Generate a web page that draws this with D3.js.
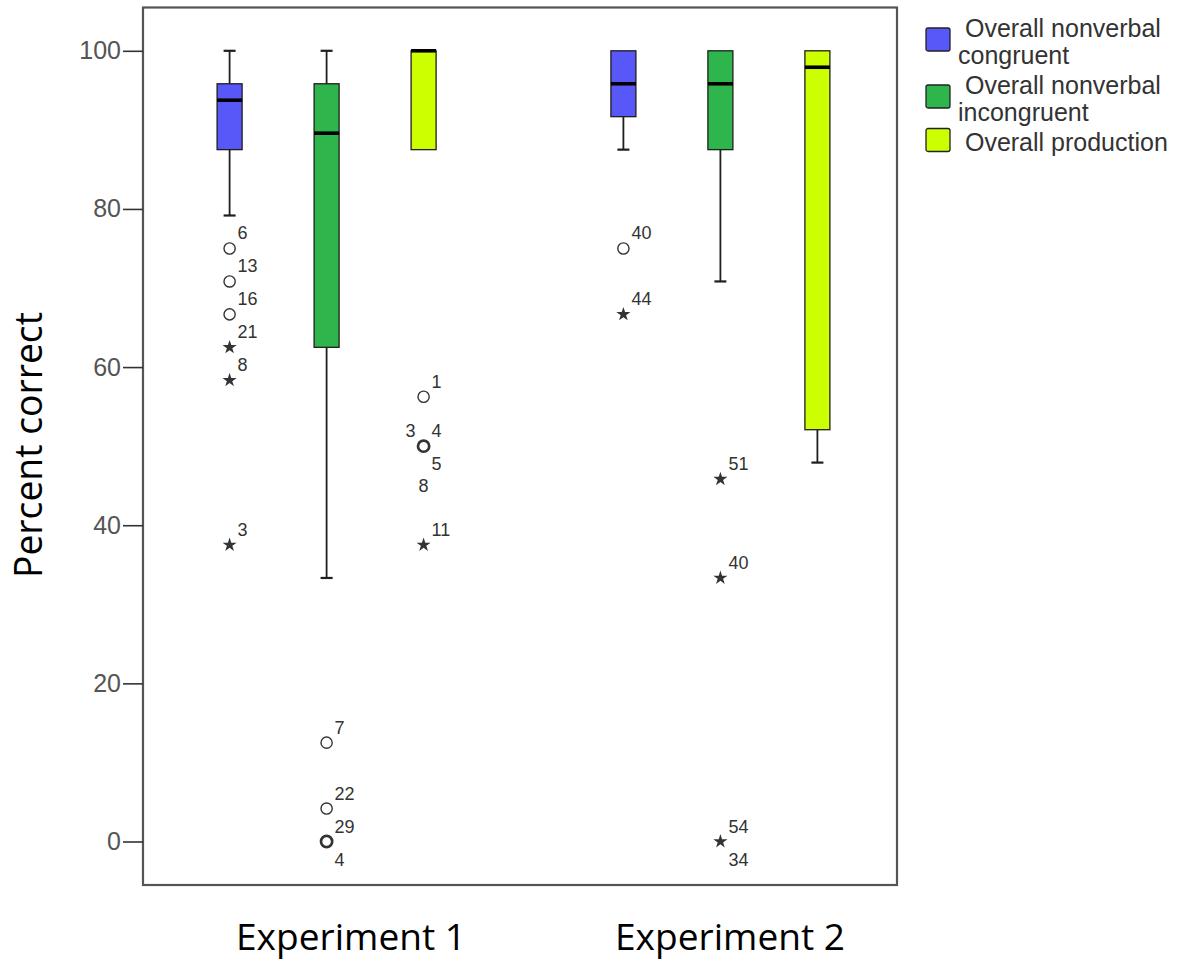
<!DOCTYPE html>
<html>
<head>
<meta charset="utf-8">
<script src="https://cdn.jsdelivr.net/npm/d3@7"></script>
<style>
  html, body { margin: 0; padding: 0; background: #fff; }
  svg { display: block; }
</style>
</head>
<body>
<script>
// Groups and measures
const experiments = ["Experiment 1", "Experiment 2"];
const measures = ["Overall nonverbal congruent", "Overall nonverbal incongruent", "Overall production"];
const legendLines = [[" Overall nonverbal", "congruent"], [" Overall nonverbal", "incongruent"], [" Overall production"]];
const yTicks = [0, 20, 40, 60, 80, 100];

// Box statistics, one row per experiment, one entry per measure (percent correct)
const whiskerLow  = [[79.17, 33.33, 87.5], [87.5, 70.83, 47.92]];
const q1          = [[87.5, 62.5, 87.5], [91.67, 87.5, 52.08]];
const medians     = [[93.75, 89.58, 100], [95.83, 95.83, 97.92]];
const q3          = [[95.83, 95.83, 100], [100, 100, 100]];
const whiskerHigh = [[100, 100, 100], [100, 100, 100]];

// Outlying cases: experiment index, measure index, value, kind ("o" outlier, "*" extreme),
// case numbers with the side of the point their label sits on
const outliers = [
  { e: 0, m: 0, value: 75,    kind: "o", cases: [["6", "ne"]] },
  { e: 0, m: 0, value: 70.83, kind: "o", cases: [["13", "ne"]] },
  { e: 0, m: 0, value: 66.67, kind: "o", cases: [["16", "ne"]] },
  { e: 0, m: 0, value: 62.5,  kind: "*", cases: [["21", "ne"]] },
  { e: 0, m: 0, value: 58.33, kind: "*", cases: [["8", "ne"]] },
  { e: 0, m: 0, value: 37.5,  kind: "*", cases: [["3", "ne"]] },
  { e: 0, m: 1, value: 12.5,  kind: "o", cases: [["7", "ne"]] },
  { e: 0, m: 1, value: 4.17,  kind: "o", cases: [["22", "ne"]] },
  { e: 0, m: 1, value: 0,     kind: "o", cases: [["29", "ne"], ["4", "se"]] },
  { e: 0, m: 2, value: 56.25, kind: "o", cases: [["1", "ne"]] },
  { e: 0, m: 2, value: 50,    kind: "o", cases: [["3", "nw"], ["4", "ne"], ["5", "se"], ["8", "s"]] },
  { e: 0, m: 2, value: 37.5,  kind: "*", cases: [["11", "ne"]] },
  { e: 1, m: 0, value: 75,    kind: "o", cases: [["40", "ne"]] },
  { e: 1, m: 0, value: 66.67, kind: "*", cases: [["44", "ne"]] },
  { e: 1, m: 1, value: 45.83, kind: "*", cases: [["51", "ne"]] },
  { e: 1, m: 1, value: 33.33, kind: "*", cases: [["40", "ne"]] },
  { e: 1, m: 1, value: 0,     kind: "*", cases: [["54", "ne"], ["34", "se"]] }
];

const colors = ["#5858f8", "#2eb54b", "#ccff00"];

// Layout
const W = 1189, H = 961;
const frame = { left: 143, top: 7.5, right: 897, bottom: 885 };
const boxW = 25, capW = 12;

const svg = d3.select("body").append("svg").attr("width", W).attr("height", H);

const y = d3.scaleLinear().domain([0, 100]).range([841.5, 50.8]);
const xGroup = d3.scalePoint().domain(experiments).range([326.6, 720.4]);
const xInner = d3.scalePoint().domain(measures).range([-97, 97]);
const xLabel = d3.scalePoint().domain(experiments).range([351, 730]);
const color = d3.scaleOrdinal().domain(measures).range(colors);

// Plot frame
svg.append("rect")
  .attr("x", frame.left).attr("y", frame.top)
  .attr("width", frame.right - frame.left).attr("height", frame.bottom - frame.top)
  .attr("fill", "#fff").attr("stroke", "#555").attr("stroke-width", 2.2);

// Y axis
const yAxis = svg.append("g")
  .attr("transform", `translate(${frame.left},0)`)
  .call(d3.axisLeft(y).tickValues(yTicks).tickSize(20).tickPadding(2));
yAxis.select(".domain").remove();
yAxis.selectAll(".tick line").attr("stroke", "#333").attr("stroke-width", 1.6);
yAxis.selectAll(".tick text")
  .attr("fill", "#555")
  .style("font-family", "'Liberation Sans', Arial, sans-serif")
  .style("font-size", "25px");

// Axis titles
svg.append("text")
  .attr("transform", "translate(42,445) rotate(-90)")
  .attr("text-anchor", "middle")
  .attr("textLength", 266).attr("lengthAdjust", "spacingAndGlyphs")
  .style("font-family", "'Open Sans', 'Noto Sans', sans-serif")
  .style("font-size", "38px")
  .attr("fill", "#000")
  .text("Percent correct");

svg.selectAll(".xlab").data(experiments).join("text")
  .attr("class", "xlab")
  .attr("x", d => xLabel(d)).attr("y", 950)
  .attr("text-anchor", "middle")
  .attr("textLength", 230).attr("lengthAdjust", "spacingAndGlyphs")
  .style("font-family", "'Open Sans', 'Noto Sans', sans-serif")
  .style("font-size", "37px")
  .attr("fill", "#000")
  .text(d => d);

// Boxes
const boxes = [];
experiments.forEach((ex, e) => measures.forEach((ms, m) => {
  boxes.push({
    ex, ms, cx: xGroup(ex) + xInner(ms),
    lo: whiskerLow[e][m], q1: q1[e][m], med: medians[e][m], q3: q3[e][m], hi: whiskerHigh[e][m]
  });
}));

const gBox = svg.append("g");
boxes.forEach(b => {
  const g = gBox.append("g");
  const stroke = "#1e1e1e";
  if (b.lo < b.q1) {
    g.append("line").attr("x1", b.cx).attr("x2", b.cx).attr("y1", y(b.q1)).attr("y2", y(b.lo))
      .attr("stroke", stroke).attr("stroke-width", 1.8);
    g.append("line").attr("x1", b.cx - capW / 2).attr("x2", b.cx + capW / 2).attr("y1", y(b.lo)).attr("y2", y(b.lo))
      .attr("stroke", stroke).attr("stroke-width", 2.2);
  }
  if (b.hi > b.q3) {
    g.append("line").attr("x1", b.cx).attr("x2", b.cx).attr("y1", y(b.q3)).attr("y2", y(b.hi))
      .attr("stroke", stroke).attr("stroke-width", 1.8);
    g.append("line").attr("x1", b.cx - capW / 2).attr("x2", b.cx + capW / 2).attr("y1", y(b.hi)).attr("y2", y(b.hi))
      .attr("stroke", stroke).attr("stroke-width", 2.2);
  }
  g.append("rect")
    .attr("x", b.cx - boxW / 2).attr("y", y(b.q3))
    .attr("width", boxW).attr("height", y(b.q1) - y(b.q3))
    .attr("fill", color(b.ms)).attr("stroke", stroke).attr("stroke-width", 1.3);
  g.append("line")
    .attr("x1", b.cx - boxW / 2).attr("x2", b.cx + boxW / 2)
    .attr("y1", y(b.med)).attr("y2", y(b.med))
    .attr("stroke", "#000").attr("stroke-width", 3.6);
});

// Outliers and case labels
const gOut = svg.append("g");
const star = d3.symbol().type(d3.symbolStar).size(62);
const labelOffset = {
  ne: { dx: 8, dy: -15, anchor: "start" },
  se: { dx: 8, dy: 18, anchor: "start" },
  nw: { dx: -8, dy: -15, anchor: "end" },
  s:  { dx: 0, dy: 40, anchor: "middle" }
};
outliers.forEach(o => {
  const cx = xGroup(experiments[o.e]) + xInner(measures[o.m]);
  const cy = y(o.value);
  if (o.kind === "o") {
    gOut.append("circle").attr("cx", cx).attr("cy", cy).attr("r", 5.6)
      .attr("fill", "none").attr("stroke", "#333")
      .attr("stroke-width", o.cases.length > 1 ? 2.7 : 1.4);
  } else {
    gOut.append("path").attr("d", star()).attr("transform", `translate(${cx},${cy})`)
      .attr("fill", "#333");
  }
  o.cases.forEach(([id, side]) => {
    const off = labelOffset[side];
    gOut.append("text")
      .attr("x", cx + off.dx).attr("y", cy + off.dy)
      .attr("text-anchor", off.anchor)
      .attr("dominant-baseline", "central")
      .style("font-family", "'Liberation Sans', Arial, sans-serif")
      .style("font-size", "18px")
      .attr("fill", "#333")
      .text(id);
  });
});

// Legend
const legend = svg.append("g").attr("transform", "translate(926,15)");
let ly = 0;
measures.forEach((ms, i) => {
  const lines = legendLines[i];
  const item = legend.append("g").attr("transform", `translate(0,${ly})`);
  const mid = (lines.length - 1) * 13.5 + 11;
  item.append("rect")
    .attr("x", 0).attr("y", mid - 11.5).attr("width", 24).attr("height", 23).attr("rx", 2)
    .attr("fill", color(ms)).attr("stroke", "#222").attr("stroke-width", 1.3);
  lines.forEach((t, j) => {
    item.append("text")
      .attr("x", 32).attr("y", 22 + j * 27)
      .style("white-space", "pre")
      .style("font-family", "'Liberation Sans', Arial, sans-serif")
      .style("font-size", "25px")
      .attr("fill", "#333")
      .text(t);
  });
  ly += lines.length * 27 + 3;
});
</script>
</body>
</html>
